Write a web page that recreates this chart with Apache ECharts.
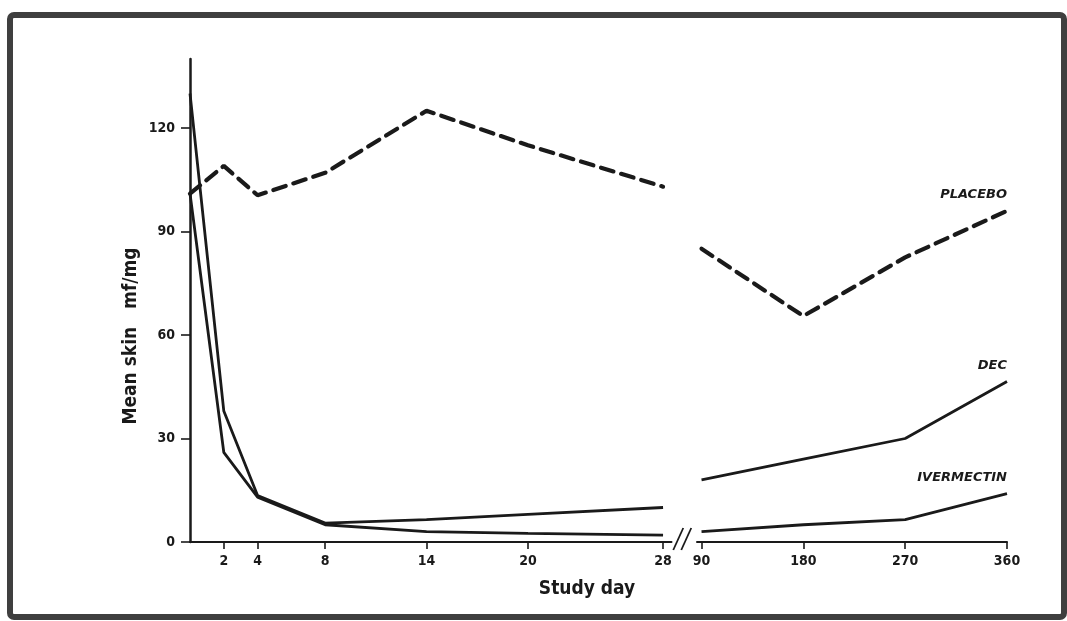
<!DOCTYPE html>
<html><head><meta charset="utf-8">
<script src="https://cdn.jsdelivr.net/npm/echarts@6/dist/echarts.min.js"></script>
<style>html,body{margin:0;padding:0;background:#fff}#c{width:1067px;height:621px}</style>
</head><body><div id="c"></div>
<script>
// ---- data ----
const daysEarly = [0, 2, 4, 8, 14, 20, 28];
const daysLate = [90, 180, 270, 360];
const placeboEarly = [101, 109, 100.5, 107, 125, 115, 103];
const decEarly = [130, 38, 13.5, 5.5, 6.5, 8, 10];
const ivermectinEarly = [101, 26, 13, 5, 3, 2.5, 2];
const placeboLate = [85, 65.5, 82.5, 96];
const decLate = [18, 24, 30, 46.5];
const ivermectinLate = [3, 5, 6.5, 14];
const yTicks = [0, 30, 60, 90, 120];
const xTicksEarly = [2, 4, 8, 14, 20, 28];
const xTicksLate = [90, 180, 270, 360];
const seriesNames = ['PLACEBO', 'DEC', 'IVERMECTIN'];

const INK = '#1a1a1a';
const FONT = "'DejaVu Sans Condensed', 'DejaVu Sans', sans-serif";

function pairs(xs, ys) { return xs.map((x, i) => [x, ys[i]]); }

function makeSeries(name, xs, ys, gridIdx, dashed, withLabel) {
  const last = xs.length - 1;
  return {
    name: name,
    type: 'line',
    xAxisIndex: gridIdx,
    yAxisIndex: gridIdx,
    data: pairs(xs, ys),
    showSymbol: withLabel,
    symbol: 'circle',
    symbolSize: 1,
    itemStyle: { color: 'rgba(0,0,0,0)', borderWidth: 0 },
    silent: true,
    animation: false,
    labelLayout: { hideOverlap: false },
    lineStyle: dashed
      ? { color: INK, width: 4.2, type: [13, 8], cap: 'round' }
      : { color: INK, width: 2.8 },
    label: {
      show: withLabel,
      position: 'top',
      align: 'right',
      distance: 9,
      opacity: 1,
      fontFamily: "'DejaVu Sans', sans-serif",
      fontStyle: 'italic',
      fontWeight: 'bold',
      fontSize: 13,
      color: INK,
      formatter: p => (p.dataIndex === last ? name : '')
    }
  };
}

function xAxisCfg(gridIdx, min, max, ticks) {
  return {
    gridIndex: gridIdx, type: 'value', min: min, max: max,
    axisLine: { show: true, onZero: false, lineStyle: { color: INK, width: 2 } },
    axisTick: { show: true, customValues: ticks, length: 7, lineStyle: { color: INK, width: 1.6 } },
    axisLabel: { customValues: ticks, margin: 12, fontSize: 14, fontWeight: 'bold', fontFamily: FONT, color: INK },
    splitLine: { show: false }
  };
}

const chart = echarts.init(document.getElementById('c'), null, { renderer: 'canvas' });
chart.setOption({
  backgroundColor: '#ffffff',
  animation: false,
  grid: [
    { left: 190, right: 395.5, top: 59, bottom: 79 },
    { left: 697, right: 60, top: 59, bottom: 79 }
  ],
  xAxis: [
    xAxisCfg(0, 0, 28.5, xTicksEarly),
    xAxisCfg(1, 86, 360, xTicksLate)
  ],
  yAxis: [
    {
      gridIndex: 0, type: 'value', min: 0, max: 140,
      axisLine: { show: true, onZero: false, lineStyle: { color: INK, width: 2.5 } },
      axisTick: { show: true, customValues: yTicks, length: 9, lineStyle: { color: INK, width: 1.6 } },
      axisLabel: { customValues: yTicks, margin: 15, fontSize: 14, fontWeight: 'bold', fontFamily: FONT, color: INK },
      splitLine: { show: false }
    },
    { gridIndex: 1, type: 'value', min: 0, max: 140, show: false, splitLine: { show: false } }
  ],
  series: [
    makeSeries(seriesNames[0], daysEarly, placeboEarly, 0, true, false),
    makeSeries(seriesNames[1], daysEarly, decEarly, 0, false, false),
    makeSeries(seriesNames[2], daysEarly, ivermectinEarly, 0, false, false),
    makeSeries(seriesNames[0], daysLate, placeboLate, 1, true, true),
    makeSeries(seriesNames[1], daysLate, decLate, 1, false, true),
    makeSeries(seriesNames[2], daysLate, ivermectinLate, 1, false, true)
  ]
});

// axis break marks between the two axis segments, located through the axes
const pA = chart.convertToPixel({ gridIndex: 0 }, [28.5, 0]);
const pB = chart.convertToPixel({ gridIndex: 1 }, [86, 0]);
const mid = (pA[0] + pB[0]) / 2;
const yb = pA[1];

chart.setOption({
  graphic: [
    { type: 'rect', z: 100, shape: { x: 10, y: 15, width: 1054, height: 602, r: 4 },
      style: { fill: 'none', stroke: '#3f3f3f', lineWidth: 6 } },
    { type: 'line', z: 100, shape: { x1: mid - 11, y1: yb + 8, x2: mid - 1, y2: yb - 14 },
      style: { stroke: INK, lineWidth: 1.8 } },
    { type: 'line', z: 100, shape: { x1: mid - 3, y1: yb + 8, x2: mid + 7, y2: yb - 14 },
      style: { stroke: INK, lineWidth: 1.8 } },
    { type: 'text', z: 100, x: 131, y: 336, rotation: Math.PI / 2,
      style: { text: 'Mean skin   mf/mg', font: "bold 19px 'DejaVu Sans Condensed', sans-serif",
               fill: INK, align: 'center', verticalAlign: 'middle' } },
    { type: 'text', z: 100, x: 587, y: 589,
      style: { text: 'Study day', font: "bold 19px 'DejaVu Sans Condensed', sans-serif",
               fill: INK, align: 'center', verticalAlign: 'middle' } }
  ]
});
</script>
</body></html>
